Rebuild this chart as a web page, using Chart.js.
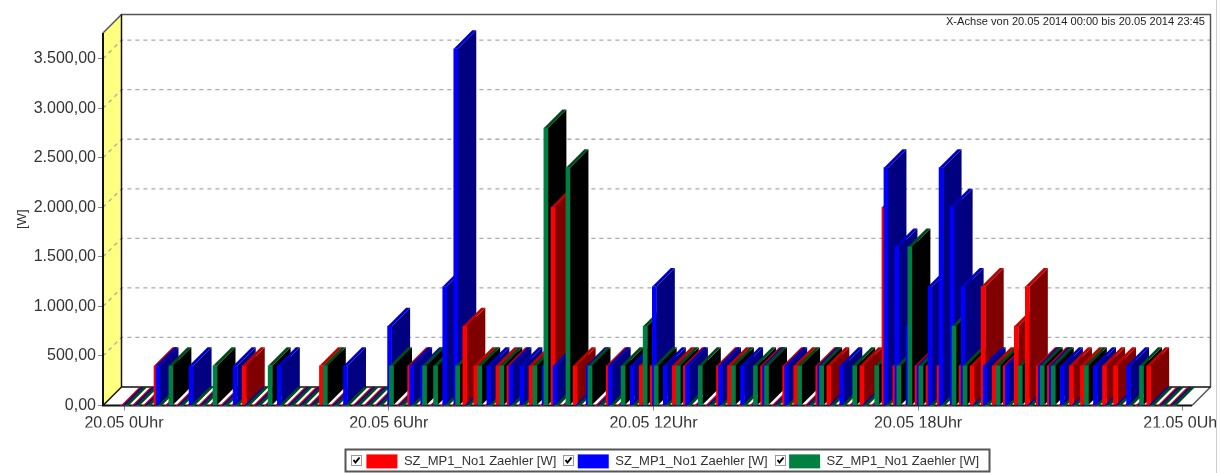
<!DOCTYPE html>
<html><head><meta charset="utf-8">
<style>html,body{margin:0;padding:0;background:#fff}#wrap{width:1216px;height:473px;border-right:1px solid #ccc}canvas{display:block;filter:blur(0.4px)}</style>
<script src="https://cdn.jsdelivr.net/npm/chart.js@4/dist/chart.umd.min.js"></script>
</head><body><div id="wrap"><canvas id="c" width="1216" height="473"></canvas></div>
<script>
// 96 quarter-hour slots; only slots with a non-zero reading are listed, all others read 0
const slotCount = 96;
const seriesLabel = 'SZ_MP1_No1 Zaehler [W]';
const redSlots  = [3,11,18,26,31,32,34,35,37,39,41,44,47,48,50,51,54,55,58,60,61,63,64,67,69,70,72,73,74,76,77,78,79,80,81,82,83,84,86,87,89,90,93];
const redWatts  = [400,400,400,400,800,400,400,400,400,2000,400,400,400,400,400,400,400,400,400,400,400,400,400,400,2000,400,400,400,400,400,400,1200,400,400,800,1200,400,400,400,400,400,400,400];
const blueSlots = [3,6,10,14,20,24,26,27,29,30,33,35,36,38,39,42,44,46,48,49,51,54,56,58,60,63,65,69,70,71,72,73,74,75,76,78,80,83,84,85,88,91];
const blueWatts = [400,400,400,400,400,800,400,400,1200,3600,400,400,400,400,400,400,400,400,1200,400,400,400,400,400,400,400,400,2400,1600,800,400,1200,2400,2000,1200,400,400,400,400,400,400,400];
const greenSlots= [4,8,13,18,24,27,28,30,32,34,37,38,40,42,45,47,48,50,52,55,57,58,61,63,66,68,70,71,72,75,76,79,81,83,84,87,92];
const greenWatts= [400,400,400,400,400,400,400,400,400,400,400,2800,2400,400,400,800,400,400,400,400,400,400,400,400,400,400,400,1600,400,800,400,400,400,400,400,400,400];
const xTickSlots  = [0,24,48,72,96];
const xTickLabels = ['20.05 0Uhr','20.05 6Uhr','20.05 12Uhr','20.05 18Uhr','21.05 0Uhr'];
const yTickValues = [0,500,1000,1500,2000,2500,3000,3500];
const yTickLabels = ['0,00','500,00','1.000,00','1.500,00','2.000,00','2.500,00','3.000,00','3.500,00'];
const rangeNote = 'X-Achse von 20.05 2014 00:00 bis 20.05 2014 23:45';

function series(slots, watts, shift) {
  const out = [];
  for (let n = 0; n < slotCount; n++) {
    const i = slots.indexOf(n);
    out.push({x: n + shift, y: i >= 0 ? watts[i] : 0});
  }
  return out;
}
const looks = [
  {front:'#ff0000', side:'#800000', top:'#c00000'},
  {front:'#0000ff', side:'#000080', top:'#0000c0'},
  {front:'#008040', side:'#000000', top:'#004a18'}
];
const DEPTH = 18.5, FACE = 4;

function poly(ctx, pts, fill) {
  ctx.beginPath();
  pts.forEach((p, i) => i ? ctx.lineTo(p[0], p[1]) : ctx.moveTo(p[0], p[1]));
  ctx.closePath();
  ctx.fillStyle = fill;
  ctx.fill();
}

const box3d = {
  id: 'box3d',
  afterLayout(chart) {
    const l = chart.legend;
    l.left = 345; l.right = l.left + 700;
    l.top = 433;
  },
  beforeDatasetsDraw(chart) {
    const ctx = chart.ctx, a = chart.chartArea, y = chart.scales.y;
    const L = a.left, R = a.right, T = a.top, B = y.getPixelForValue(0);
    ctx.save();
    poly(ctx, [[L,T],[L+DEPTH,T-DEPTH],[L+DEPTH,B-DEPTH],[L,B]], '#ffff80');
    ctx.setLineDash([4,4]);
    ctx.lineWidth = 1.3;
    ctx.strokeStyle = '#aaaaaa';
    yTickValues.slice(1).forEach(v => {
      const p = y.getPixelForValue(v);
      ctx.beginPath();
      ctx.moveTo(L, p); ctx.lineTo(L+DEPTH, p-DEPTH); ctx.lineTo(R+DEPTH, p-DEPTH);
      ctx.stroke();
    });
    ctx.setLineDash([]);
    ctx.strokeStyle = '#555';
    ctx.lineWidth = 1.5;
    ctx.beginPath();
    ctx.moveTo(L, T); ctx.lineTo(L+DEPTH, T-DEPTH); ctx.lineTo(R+DEPTH, T-DEPTH); ctx.lineTo(R+DEPTH, B-DEPTH); ctx.lineTo(R, B);
    ctx.stroke();
    ctx.strokeStyle = '#111';
    ctx.beginPath();
    ctx.moveTo(L+DEPTH, T-DEPTH); ctx.lineTo(L+DEPTH, B-DEPTH); ctx.lineTo(R+DEPTH, B-DEPTH);
    ctx.moveTo(L+DEPTH, B-DEPTH); ctx.lineTo(L, B);
    ctx.stroke();
    ctx.lineWidth = 2;
    ctx.beginPath();
    ctx.moveTo(L, T); ctx.lineTo(L, B); ctx.lineTo(R, B);
    ctx.stroke();
    ctx.restore();
    const metas = [0,1,2].map(i => chart.getDatasetMeta(i));
    for (let n = 0; n < slotCount; n++) {
      metas.forEach((m, s) => {
        const el = m.data[n], c = looks[s];
        const x0 = el.x - el.width/2, x1 = x0 + FACE, top = el.y, base = el.base;
        if (base - top > 0.5) {
          poly(ctx, [[x1,top],[x1+DEPTH,top-DEPTH],[x1+DEPTH,base-DEPTH],[x1,base]], c.side);
        }
        poly(ctx, [[x0,top],[x0+DEPTH,top-DEPTH],[x1+DEPTH,top-DEPTH],[x1,top]], c.top);
        el.draw(ctx);
      });
    }
    return false;
  },
  afterDraw(chart) {
    const ctx = chart.ctx;
    ctx.save();
    ctx.fillStyle = '#222';
    ctx.font = '11.1px "Liberation Sans"';
    ctx.textAlign = 'right';
    ctx.textBaseline = 'middle';
    ctx.fillText(rangeNote, 1205, 22);
    ctx.strokeStyle = '#555';
    ctx.lineWidth = 2;
    ctx.strokeRect(345.5, 449.5, 644, 22);
    [351, 563, 775].forEach(x => {
      ctx.lineWidth = 1;
      ctx.strokeStyle = '#999';
      ctx.fillStyle = '#fff';
      ctx.fillRect(x, 455, 10, 10);
      ctx.strokeRect(x + .5, 455.5, 10, 10);
      ctx.strokeStyle = '#000';
      ctx.lineWidth = 2;
      ctx.beginPath();
      ctx.moveTo(x + 2.5, 460); ctx.lineTo(x + 4.5, 462.5); ctx.lineTo(x + 8.5, 457.5);
      ctx.stroke();
    });
    ctx.restore();
  }
};

new Chart(document.getElementById('c'), {
  type: 'bar',
  data: { datasets: [
    {label: seriesLabel, data: series(redSlots, redWatts, -0.1),  backgroundColor: looks[0].front, barThickness: FACE, grouped: false},
    {label: seriesLabel, data: series(blueSlots, blueWatts, 0.08), backgroundColor: looks[1].front, barThickness: FACE, grouped: false},
    {label: seriesLabel, data: series(greenSlots, greenWatts, 0.25), backgroundColor: looks[2].front, barThickness: FACE, grouped: false}
  ]},
  options: {
    responsive: false,
    animation: false,
    layout: {padding: {top: 33, right: 24, left: 0, bottom: 0}},
    plugins: {
      tooltip: {enabled: false},
      legend: {
        position: 'bottom', align: 'start',
        onClick: null,
        labels: {boxWidth: 31, boxHeight: 14, padding: 21.4, color: '#333',
                 font: {family: '"Liberation Sans"', size: 13}}
      }
    },
    scales: {
      x: {
        type: 'linear', min: -1.904, max: 96.83, offset: false,
        afterBuildTicks: s => { s.ticks = xTickSlots.map(v => ({value: v})); },
        afterFit: s => { s.paddingLeft = 0; s.paddingRight = 0; s.height = 473 - 405.5 - s.chart.legend.height; },
        grid: {display: true, offset: false, drawOnChartArea: false, drawTicks: true, tickLength: 5, color: '#888'},
        border: {display: false},
        ticks: {maxRotation: 0, autoSkip: false, padding: 3, color: '#333',
                font: {family: '"Liberation Sans"', size: 16},
                callback: v => xTickLabels[xTickSlots.indexOf(v)]}
      },
      y: {
        min: 0, max: 3759,
        afterBuildTicks: s => { s.ticks = yTickValues.map(v => ({value: v})); },
        afterFit: s => { s.width = 103; s.paddingTop = 0; s.paddingBottom = 0; },
        title: {display: true, text: '[W]', color: '#333', font: {family: '"Liberation Sans"', size: 13}, padding: {top: 15, bottom: 0}},
        grid: {display: true, drawOnChartArea: false, drawTicks: true, tickLength: 5, color: '#888'},
        border: {display: false},
        ticks: {padding: 2, color: '#333', font: {family: '"Liberation Sans"', size: 16},
                callback: v => yTickLabels[yTickValues.indexOf(v)]}
      }
    }
  },
  plugins: [box3d]
});
</script></body></html>
